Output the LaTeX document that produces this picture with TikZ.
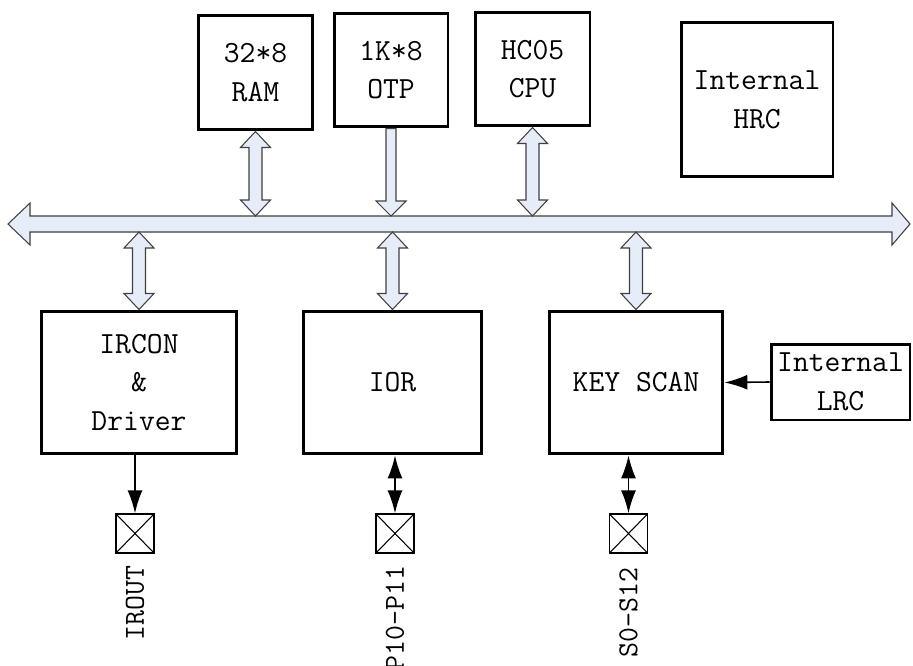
\documentclass[tikz,border=0pt]{standalone}
\usepackage{fontspec}
\usetikzlibrary{arrows.meta,calc,positioning}
\definecolor{busfill}{RGB}{230,237,248}

% block arrows, all sizes in px of the picture
\newcommand{\dblarrow}[2]{% #1 upper tip, #2 lower tip
  \draw[blockarrow] (#1) -- ($(#1)+(15,16)$) -- ($(#1)+(6.5,16)$) -- ($(#2)+(6.5,-16)$) -- ($(#2)+(15,-16)$) -- (#2)
    -- ($(#2)+(-15,-16)$) -- ($(#2)+(-6.5,-16)$) -- ($(#1)+(-6.5,16)$) -- ($(#1)+(-15,16)$) -- cycle;}
\newcommand{\dnarrow}[2]{% #1 upper end, #2 lower tip
  \draw[blockarrow] ($(#1)+(-5,0)$) -- ($(#1)+(5,0)$) -- ($(#2)+(5,-15)$) -- ($(#2)+(15,-15)$) -- (#2)
    -- ($(#2)+(-15,-15)$) -- ($(#2)+(-5,-15)$) -- cycle;}
\newcommand{\busarrow}[2]{% #1 left tip, #2 right tip
  \draw[blockarrow] (#1) -- ($(#1)+(22,-21)$) -- ($(#1)+(22,-8)$) -- ($(#2)+(-18,-8)$) -- ($(#2)+(-18,-21)$) -- (#2)
    -- ($(#2)+(-18,21)$) -- ($(#2)+(-18,8)$) -- ($(#1)+(22,8)$) -- ($(#1)+(22,21)$) -- cycle;}

\begin{document}
\begin{tikzpicture}[x=0.02cm,y=-0.02cm,
	font=\fontsize{17.5}{22}\selectfont\ttfamily,
	blockarrow/.style={draw=black!75,fill=busfill,line width=0.6pt},
	unit/.style={draw,line width=1.7pt,align=center,inner sep=0pt},
	pad/.style={draw,line width=0.8pt,minimum width=0.76cm,minimum height=0.78cm,inner sep=0pt,
		path picture={\draw[line width=0.6pt] (path picture bounding box.south west) -- (path picture bounding box.north east)
			(path picture bounding box.north west) -- (path picture bounding box.south east);}},
	pin/.style={rotate=90,anchor=east,inner sep=0pt,font=\fontsize{16.5}{18}\selectfont\ttfamily},
	sig/.style={line width=0.9pt},
	>={Latex[length=13pt,width=8.5pt]}]
	\useasboundingbox (0,0) rectangle (913,666);

	% top row
	\node[unit,minimum width=2.3cm,minimum height=2.3cm] (ram) at (255.5,72.5) {32*8\\RAM};
	\node[unit,minimum width=2.28cm,minimum height=2.28cm] (otp) at (391,70) {1K*8\\OTP};
	\node[unit,minimum width=2.3cm,minimum height=2.28cm] (cpu) at (532.5,69) {HC05\\CPU};
	\node[unit,minimum width=3.04cm,minimum height=3.1cm] (hrc) at (757,99.5) {Internal\\HRC};

	% bottom row
	\node[unit,minimum width=3.92cm,minimum height=2.86cm] (ircon) at (139,382.5) {IRCON\\\&\\Driver};
	\node[unit,minimum width=3.58cm,minimum height=2.86cm] (ior) at (392.5,382.5) {IOR};
	\node[unit,minimum width=3.48cm,minimum height=2.86cm] (key) at (636,382.5) {KEY SCAN};
	\node[unit,minimum width=2.78cm,minimum height=1.52cm] (lrc) at (840.5,382) {Internal\\LRC};

	% pins
	\node[pad] (pir) at (135,533.5) {};
	\node[pad] (pio) at (395,533.5) {};
	\node[pad] (pks) at (628.5,533.5) {};
	\node[pin] (lir) at ($(pir.south)+(0,12)$) {IROUT};
	\node[pin] (lio) at ($(pio.south)+(0,12)$) {P10-P11};
	\node[pin] (lks) at ($(pks.south)+(0,14)$) {S0-S12};

	% bus
	\coordinate (busL) at (8,224);
	\coordinate (busR) at (910,224);
	\coordinate (busT) at (0,216);
	\coordinate (busB) at (0,232);
	\busarrow{busL}{busR}

	\coordinate (ramb) at (ram.south |- busT);
	\coordinate (otpb) at (otp.south |- busT);
	\coordinate (cpub) at (cpu.south |- busT);
	\coordinate (irct) at (ircon.north |- busB);
	\coordinate (iort) at (ior.north |- busB);
	\coordinate (keyt) at (key.north |- busB);
	\dblarrow{ram.south}{ramb}
	\dnarrow{otp.south}{otpb}
	\dblarrow{cpu.south}{cpub}
	\dblarrow{irct}{ircon.north}
	\dblarrow{iort}{ior.north}
	\dblarrow{keyt}{key.north}

	% signals
	\draw[sig,->] (ircon.south -| pir) -- (pir.north);
	\draw[sig,<->] (ior.south -| pio) -- (pio.north);
	\draw[sig,<->] (key.south -| pks) -- (pks.north);
	\draw[sig,->] (lrc.west) -- (key.east);
\end{tikzpicture}
\end{document}
